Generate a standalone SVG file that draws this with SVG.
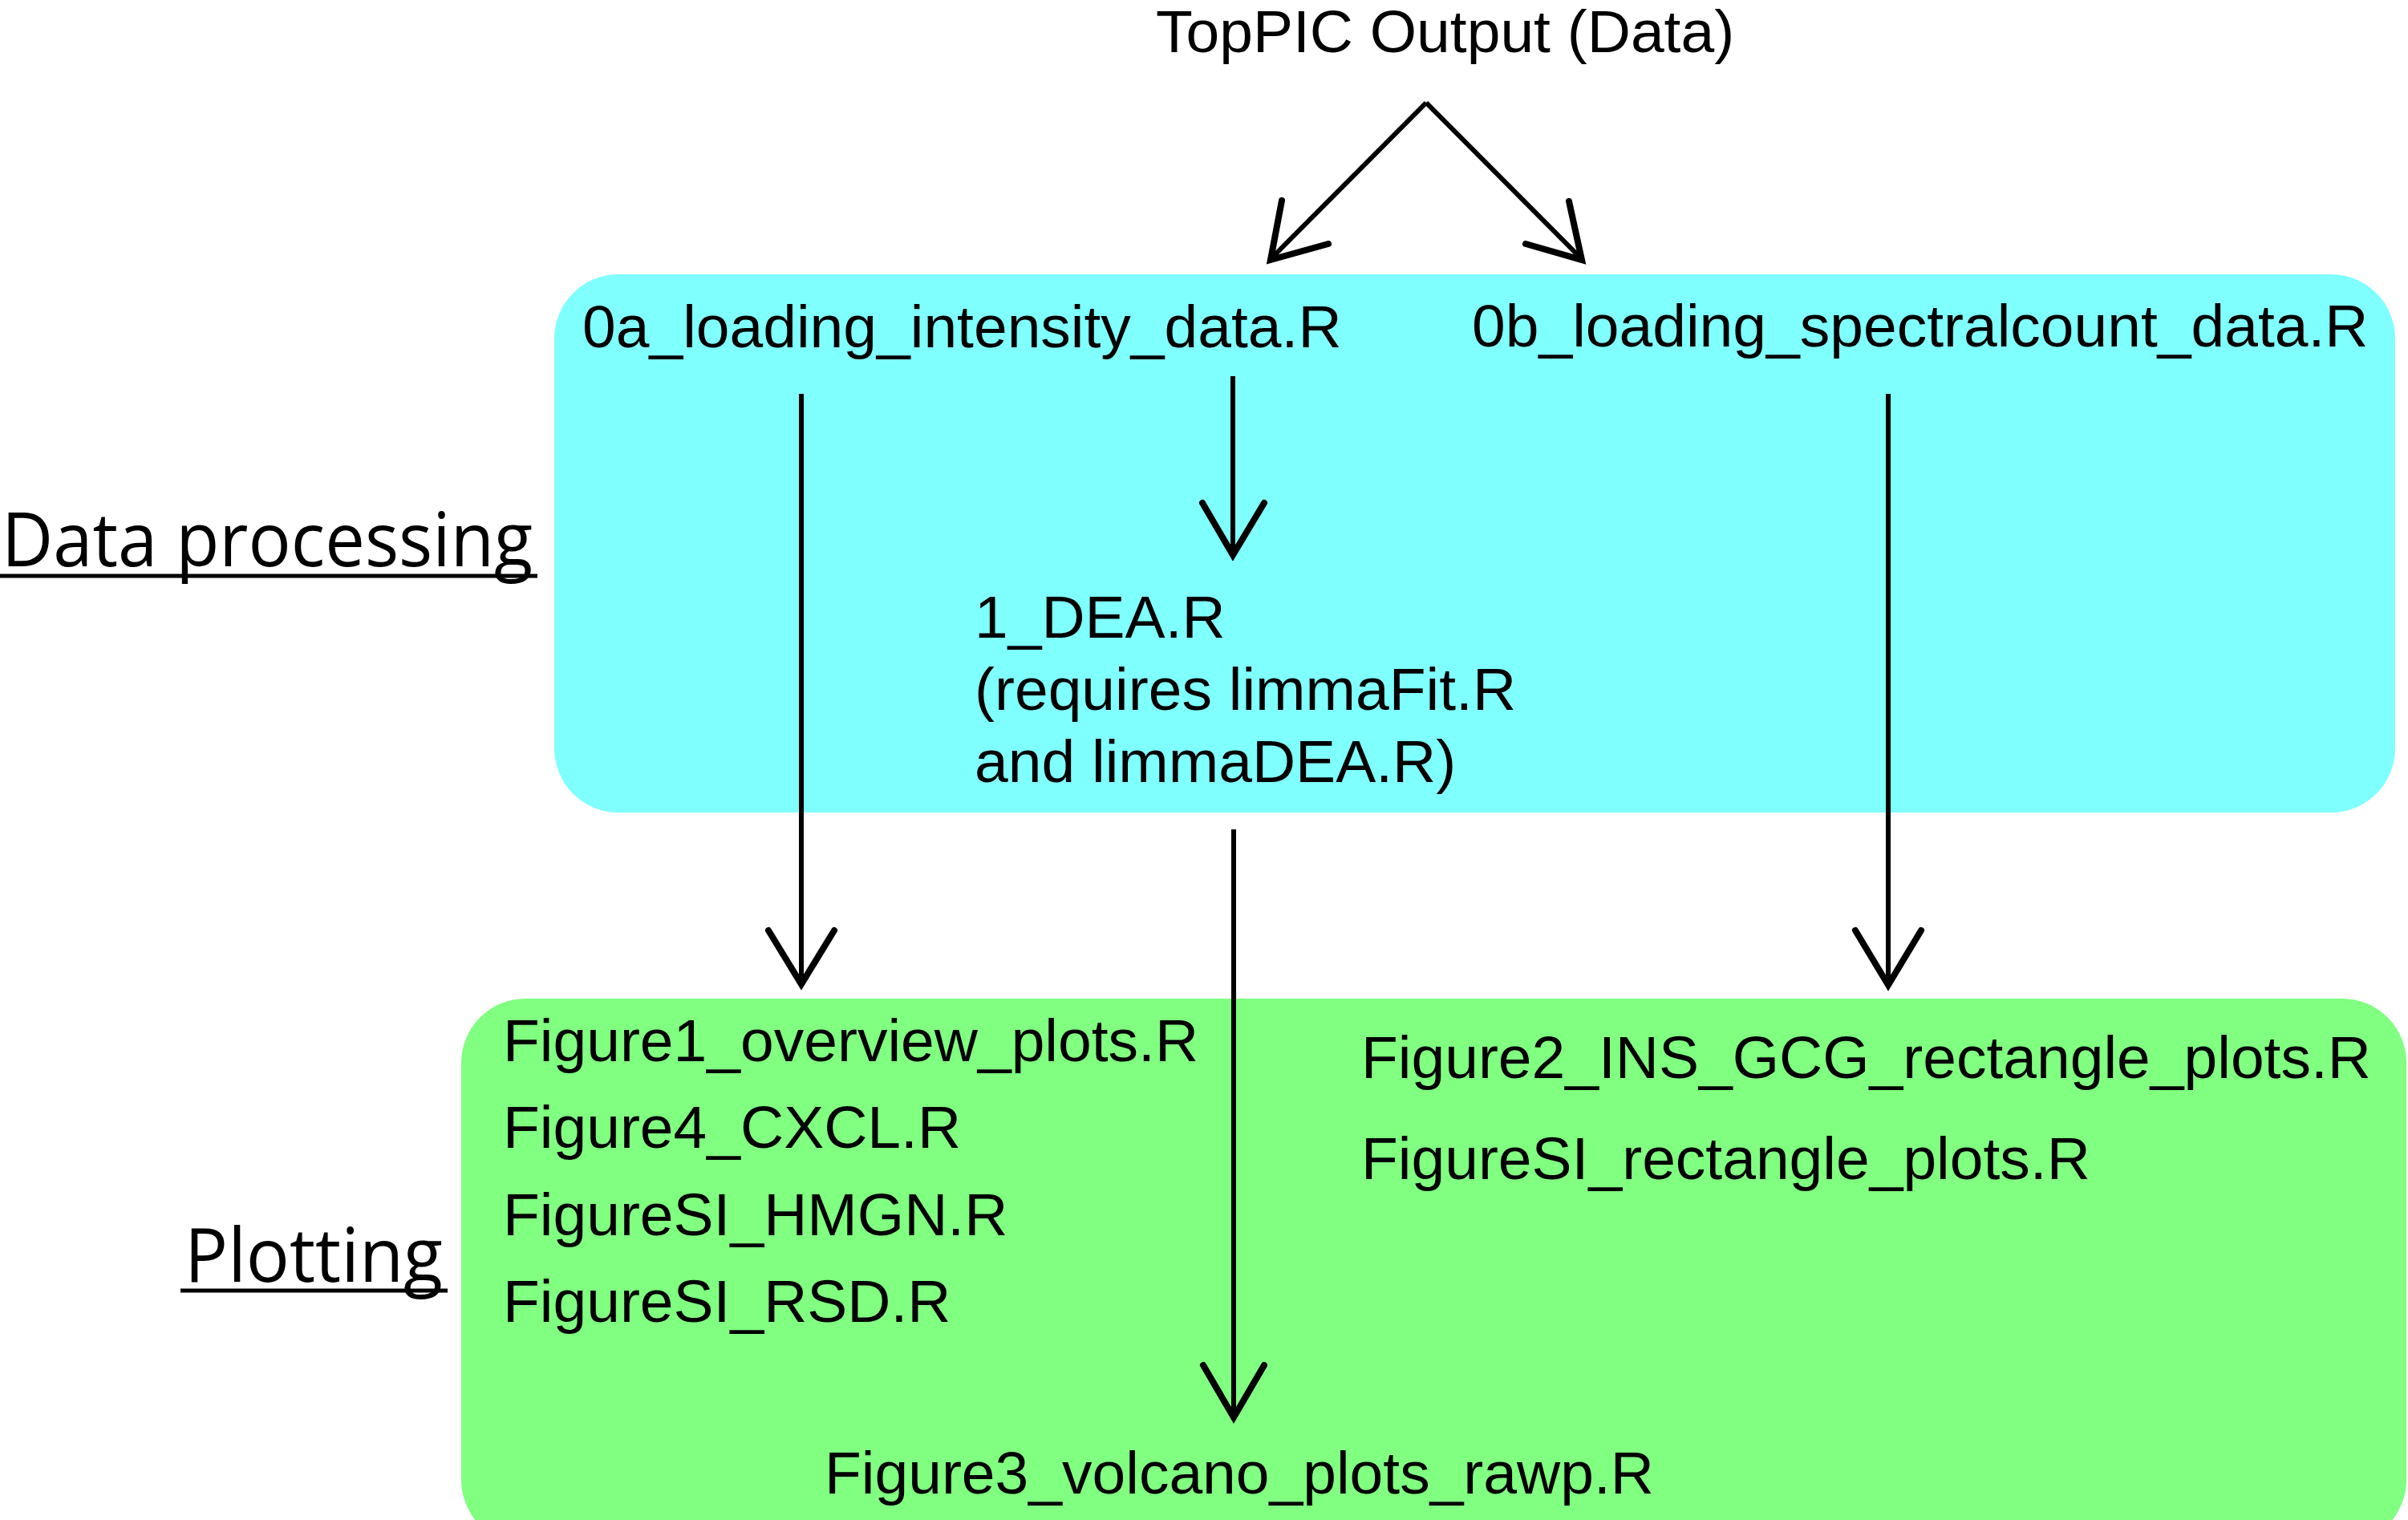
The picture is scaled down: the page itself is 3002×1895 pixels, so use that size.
<svg xmlns="http://www.w3.org/2000/svg" width="3002" height="1895" viewBox="0 0 3002 1895">
<style>
.t{font-family:"Liberation Sans",Arial,sans-serif;font-size:75px;fill:#000}
.h{font-family:"Open Sans","Noto Sans",sans-serif;font-size:93px;fill:#000}
.ln{stroke:#000;stroke-width:6;fill:none}
.hd{stroke:#000;stroke-width:8;fill:none;stroke-linecap:round;stroke-linejoin:miter}
.ul{stroke:#000;stroke-width:5}
</style>
<rect width="3002" height="1895" fill="#fff"/>
<g id="group-processing">
<rect x="691" y="342" width="2295" height="671" rx="80" ry="80" fill="#80FFFF"/>
</g>
<g id="group-plotting">
<rect x="575" y="1245" width="2425" height="680" rx="80" ry="80" fill="#80FF80"/>
</g>
<g id="label-data-processing">
<text class="h" x="2" y="706" textLength="662" lengthAdjust="spacingAndGlyphs">Data processing</text>
<line class="ul" x1="0" y1="718" x2="670" y2="718"/>
</g>
<g id="label-plotting">
<text class="h" x="230" y="1598" textLength="322" lengthAdjust="spacingAndGlyphs">Plotting</text>
<line class="ul" x1="225" y1="1609" x2="558" y2="1609"/>
</g>
<g id="node-toppic">
<text class="t" x="1441" y="65">TopPIC Output (Data)</text>
</g>
<g id="node-0a">
<text class="t" x="726" y="433">0a_loading_intensity_data.R</text>
</g>
<g id="node-0b">
<text class="t" x="1835" y="432">0b_loading_spectralcount_data.R</text>
</g>
<g id="node-dea">
<text class="t" x="1215" y="795">1_DEA.R</text>
<text class="t" x="1215" y="885">(requires limmaFit.R</text>
<text class="t" x="1215" y="975">and limmaDEA.R)</text>
</g>
<g id="node-fig-left">
<text class="t" x="627" y="1323">Figure1_overview_plots.R</text>
<text class="t" x="627" y="1431">Figure4_CXCL.R</text>
<text class="t" x="627" y="1540">FigureSI_HMGN.R</text>
<text class="t" x="627" y="1648">FigureSI_RSD.R</text>
</g>
<g id="node-fig-right">
<text class="t" x="1697" y="1344">Figure2_INS_GCG_rectangle_plots.R</text>
<text class="t" x="1697" y="1470">FigureSI_rectangle_plots.R</text>
</g>
<g id="node-fig3">
<text class="t" x="1028" y="1862">Figure3_volcano_plots_rawp.R</text>
</g>
<g id="connectors">
<line class="ln" x1="1778" y1="128" x2="1585" y2="322"/>
<polyline class="hd" points="1598,250 1584,324 1656,304"/>
<line class="ln" x1="1778" y1="128" x2="1971" y2="322"/>
<polyline class="hd" points="1956,251 1972,324 1902,304"/>
<line class="ln" x1="999" y1="491" x2="999" y2="1224"/>
<polyline class="hd" points="958,1160 999,1227 1040,1160"/>
<line class="ln" x1="1537" y1="469" x2="1537" y2="690"/>
<polyline class="hd" points="1499,627 1537,692 1576,627"/>
<line class="ln" x1="1538" y1="1034" x2="1538" y2="1764"/>
<polyline class="hd" points="1500,1702 1538,1767 1576,1702"/>
<line class="ln" x1="2354" y1="491" x2="2354" y2="1225"/>
<polyline class="hd" points="2313,1160 2354,1228 2395,1160"/>
</g>
</svg>
